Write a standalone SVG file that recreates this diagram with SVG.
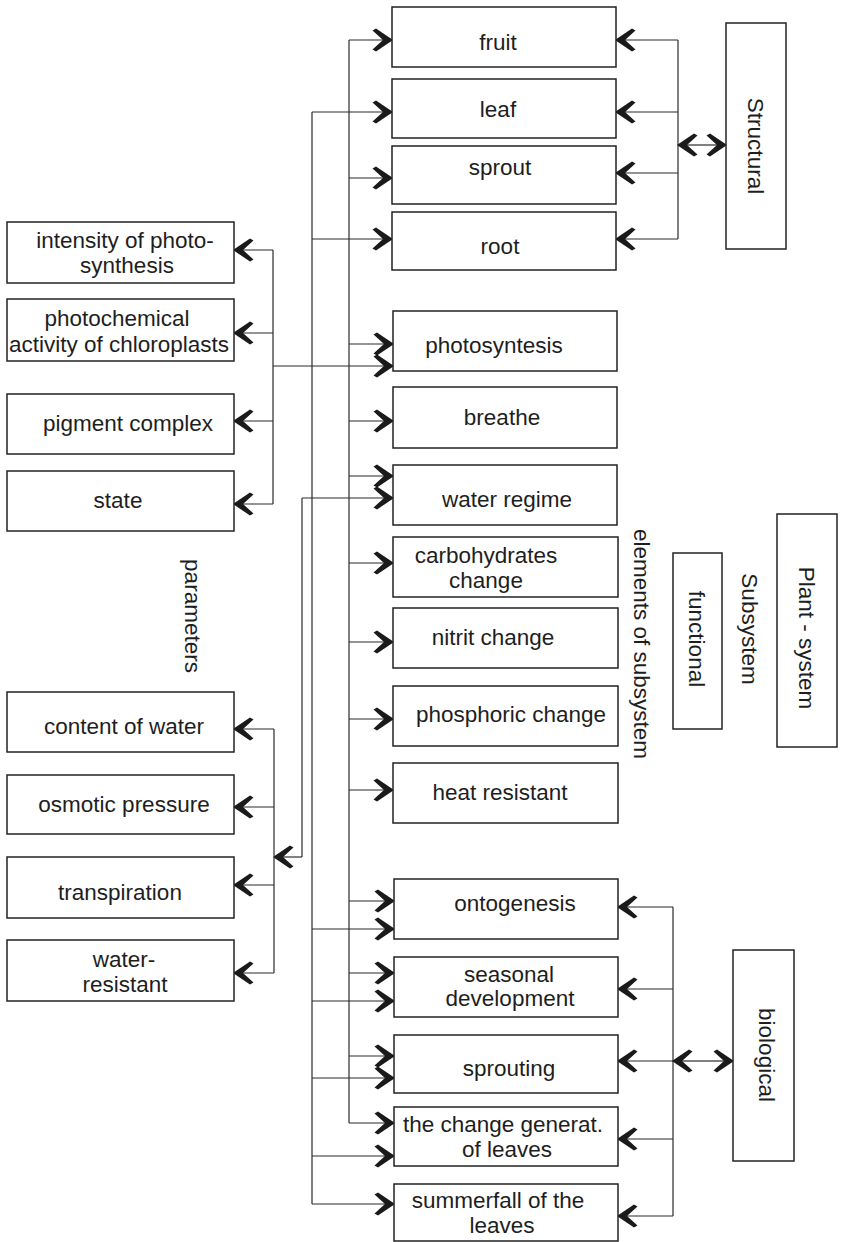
<svg xmlns="http://www.w3.org/2000/svg" width="843" height="1242" viewBox="0 0 843 1242">
<style>
.box{fill:#fff;stroke:#222;stroke-width:1.5}
.t{font-family:"Liberation Sans",Arial,sans-serif;font-size:22.5px;fill:#1e1e1e;text-anchor:middle}
.ln{fill:none;stroke:#2a2a2a;stroke-width:1.2}
.ar{fill:none;stroke:#2a2a2a;stroke-width:1.2;marker-end:url(#ah)}
</style>
<defs>
<marker id="ah" viewBox="-21 -12 23 24" markerWidth="23" markerHeight="24" refX="0" refY="0" markerUnits="userSpaceOnUse" orient="auto">
<path d="M1,0 L-16,-11.5 L-19.5,-9.5 L-9,0 L-19.5,9.5 L-16,11.5 Z" fill="#1a1a1a"/>
</marker>
</defs>
<rect width="843" height="1242" fill="#fff"/>

<g id="connectors">
<path class="ln" d="M349,40 V1123"/>
<path class="ln" d="M312,112 V1204"/>
<path class="ln" d="M302,498 V857"/>
<path class="ar" d="M349,40 H392"/>
<path class="ar" d="M349,178 H392"/>
<path class="ar" d="M349,344 H393"/>
<path class="ar" d="M349,421 H393"/>
<path class="ar" d="M349,476 H393"/>
<path class="ar" d="M349,563 H393"/>
<path class="ar" d="M349,642 H393"/>
<path class="ar" d="M349,719 H393"/>
<path class="ar" d="M349,790 H393"/>
<path class="ar" d="M349,901 H394"/>
<path class="ar" d="M349,973 H394"/>
<path class="ar" d="M349,1056 H394"/>
<path class="ar" d="M349,1123 H394"/>
<path class="ar" d="M312,112 H392"/>
<path class="ar" d="M312,239 H392"/>
<path class="ar" d="M312,929 H394"/>
<path class="ar" d="M312,1001 H394"/>
<path class="ar" d="M312,1078 H394"/>
<path class="ar" d="M312,1156 H394"/>
<path class="ar" d="M312,1204 H394"/>
<path class="ar" d="M302,498 H393"/>
<path class="ar" d="M302,857 H274"/>
<path class="ln" d="M273,250 V504"/>
<path class="ar" d="M273,250 H234"/>
<path class="ar" d="M273,333 H234"/>
<path class="ar" d="M273,421 H234"/>
<path class="ar" d="M273,504 H234"/>
<path class="ar" d="M273,366 H393"/>
<path class="ln" d="M274,729 V973"/>
<path class="ar" d="M274,729 H234"/>
<path class="ar" d="M274,807 H234"/>
<path class="ar" d="M274,885 H234"/>
<path class="ar" d="M274,973 H234"/>
<path class="ln" d="M678,40 V239"/>
<path class="ar" d="M678,40 H616"/>
<path class="ar" d="M678,112 H616"/>
<path class="ar" d="M678,173 H616"/>
<path class="ar" d="M678,239 H616"/>
<path class="ar" d="M702,145 H678"/>
<path class="ar" d="M702,145 H726"/>
<path class="ln" d="M673,907 V1216"/>
<path class="ar" d="M673,907 H618"/>
<path class="ar" d="M673,989 H618"/>
<path class="ar" d="M673,1061 H618"/>
<path class="ar" d="M673,1139 H618"/>
<path class="ar" d="M673,1216 H618"/>
<path class="ar" d="M703,1061 H673"/>
<path class="ar" d="M703,1061 H733"/>
</g>

<g id="fruit"><rect class="box" x="392" y="7" width="224" height="60"/><text class="t" x="498" y="50">fruit</text></g>
<g id="leaf"><rect class="box" x="392" y="79" width="224" height="59"/><text class="t" x="498" y="117">leaf</text></g>
<g id="sprout"><rect class="box" x="392" y="146" width="224" height="58"/><text class="t" x="500" y="175">sprout</text></g>
<g id="root"><rect class="box" x="392" y="212" width="224" height="58"/><text class="t" x="500" y="254">root</text></g>
<g id="structural"><rect class="box" x="726" y="23" width="60" height="226"/><text class="t" transform="translate(756,146) rotate(90)" x="0" y="8">Structural</text></g>

<g id="intensity"><rect class="box" x="7" y="222" width="227" height="61"/><text class="t" x="125" y="248">intensity of photo-</text><text class="t" x="127" y="273">synthesis</text></g>
<g id="photochemical"><rect class="box" x="7" y="299" width="227" height="62"/><text class="t" x="117" y="326">photochemical</text><text class="t" x="119" y="352">activity of chloroplasts</text></g>
<g id="pigment"><rect class="box" x="7" y="394" width="227" height="60"/><text class="t" x="128" y="431">pigment complex</text></g>
<g id="state"><rect class="box" x="7" y="471" width="227" height="60"/><text class="t" x="118" y="508">state</text></g>

<g id="photosyntesis"><rect class="box" x="393" y="311" width="224" height="60"/><text class="t" x="494" y="353">photosyntesis</text></g>
<g id="breathe"><rect class="box" x="393" y="387" width="224" height="61"/><text class="t" x="502" y="425">breathe</text></g>
<g id="water-regime"><rect class="box" x="393" y="465" width="224" height="60"/><text class="t" x="507" y="507">water regime</text></g>
<g id="carbohydrates"><rect class="box" x="393" y="537" width="225" height="60"/><text class="t" x="486" y="563">carbohydrates</text><text class="t" x="486" y="588">change</text></g>
<g id="nitrit"><rect class="box" x="393" y="608" width="225" height="60"/><text class="t" x="493" y="645">nitrit change</text></g>
<g id="phosphoric"><rect class="box" x="393" y="686" width="225" height="60"/><text class="t" x="511" y="722">phosphoric change</text></g>
<g id="heat"><rect class="box" x="393" y="763" width="225" height="60"/><text class="t" x="500" y="800">heat resistant</text></g>

<g id="functional"><rect class="box" x="673" y="553" width="49" height="176"/><text class="t" transform="translate(697,639) rotate(90)" x="0" y="8">functional</text></g>
<g id="plant-system"><rect class="box" x="777" y="514" width="60" height="233"/><text class="t" transform="translate(807,638) rotate(90)" x="0" y="8">Plant - system</text></g>
<g id="label-subsystem"><text class="t" transform="translate(750,629) rotate(90)" x="0" y="8">Subsystem</text></g>
<g id="label-elements"><text class="t" transform="translate(642,644) rotate(90)" x="0" y="8">elements of subsystem</text></g>
<g id="label-parameters"><text class="t" transform="translate(193,616) rotate(90)" x="0" y="8">parameters</text></g>

<g id="content-water"><rect class="box" x="7" y="692" width="227" height="60"/><text class="t" x="124" y="734">content of water</text></g>
<g id="osmotic"><rect class="box" x="7" y="775" width="227" height="59"/><text class="t" x="124" y="812">osmotic pressure</text></g>
<g id="transpiration"><rect class="box" x="7" y="857" width="227" height="61"/><text class="t" x="120" y="900">transpiration</text></g>
<g id="water-resistant"><rect class="box" x="7" y="940" width="227" height="61"/><text class="t" x="124" y="967">water-</text><text class="t" x="125" y="992">resistant</text></g>

<g id="ontogenesis"><rect class="box" x="394" y="879" width="224" height="60"/><text class="t" x="515" y="911">ontogenesis</text></g>
<g id="seasonal"><rect class="box" x="394" y="957" width="224" height="60"/><text class="t" x="509" y="982">seasonal</text><text class="t" x="510" y="1006">development</text></g>
<g id="sprouting"><rect class="box" x="394" y="1035" width="224" height="58"/><text class="t" x="509" y="1076">sprouting</text></g>
<g id="change-generat"><rect class="box" x="394" y="1107" width="224" height="59"/><text class="t" x="503" y="1132">the change generat.</text><text class="t" x="507" y="1157">of leaves</text></g>
<g id="summerfall"><rect class="box" x="394" y="1184" width="224" height="57"/><text class="t" x="498" y="1208">summerfall of the</text><text class="t" x="502" y="1233">leaves</text></g>
<g id="biological"><rect class="box" x="733" y="950" width="61" height="211"/><text class="t" transform="translate(767,1055) rotate(90)" x="0" y="8">biological</text></g>
</svg>
